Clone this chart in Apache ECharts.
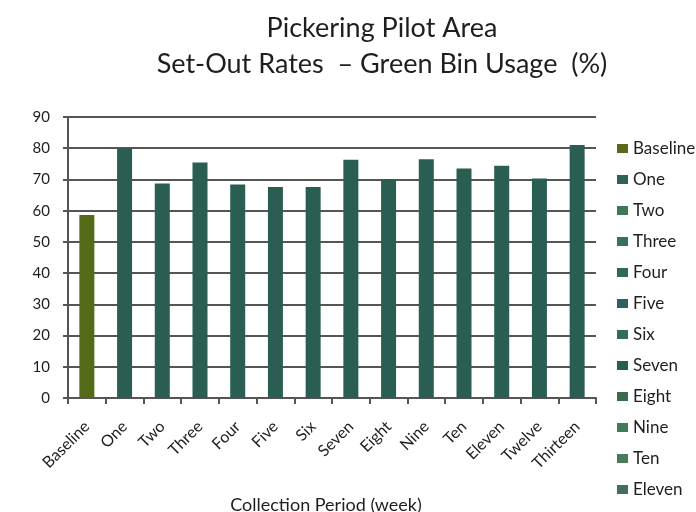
<!DOCTYPE html>
<html lang="en">
<head>
    <meta charset="UTF-8">
    <title>Pickering Pilot Area - Green Bin Usage</title>
    <style>
        * { margin: 0; padding: 0; box-sizing: border-box; }
        #chart { width: 696px; height: 512px; background: #fff; }
    </style>
</head>
<body>
<div id="chart"></div>
<script src="https://cdn.jsdelivr.net/npm/echarts@6.0.0/dist/echarts.min.js"></script>
<script>
    // periods on the x axis
    const periods = ['Baseline', 'One', 'Two', 'Three', 'Four', 'Five', 'Six',
        'Seven', 'Eight', 'Nine', 'Ten', 'Eleven', 'Twelve', 'Thirteen']
    // set-out rate (%) per period
    const rates = [58.6, 80.0, 68.7, 75.4, 68.4, 67.6, 67.6,
        76.3, 70.1, 76.5, 73.5, 74.4, 70.3, 81.0]
    // legend swatch shades (slightly different greens in the original)
    const swatches = ['#5a6a1c', '#2f6258', '#3e7856', '#3b7158', '#306a52', '#2f6060', '#356a5e',
        '#2a5c50', '#3a6a50', '#3f7a5a', '#4a7a5a', '#3f7060', '#3a6c58', '#3b7a5c']

    const font = 'Lato, "Open Sans", sans-serif'
    const myChart = echarts.init(document.getElementById('chart'))

    // one series per period so each gets a legend entry; stacked so bars stay centred
    const series = periods.map((p, i) => ({
        name: p,
        type: 'bar',
        stack: 'all',
        barWidth: 15,
        itemStyle: { color: i === 0 ? '#536a16' : '#2b5e53' },
        data: periods.map((_, j) => (j === i ? rates[i] : null))
    }))

    const option = {
        backgroundColor: '#fff',
        title: {
            text: 'Pickering Pilot Area\nSet-Out Rates  \u2013 Green Bin Usage  (%)',
            left: 377,
            top: 5,
            textAlign: 'center',
            textStyle: {
                fontFamily: font,
                fontWeight: 'normal',
                fontSize: 27,
                lineHeight: 36,
                color: '#1e1e1e'
            }
        },
        legend: {
            orient: 'vertical',
            left: 612,
            top: 135,
            height: 700,
            itemWidth: 11,
            itemHeight: 9,
            itemGap: 14,
            icon: 'rect',
            textStyle: { fontFamily: font, fontSize: 17, color: '#1e1e1e' },
            data: periods.map((p, i) => ({ name: p, itemStyle: { color: swatches[i] } }))
        },
        // keep the plot box fixed; the labels may run to the edge as in the original
        grid: { left: 68, right: 100, top: 117, bottom: 114, containLabel: false, outerBoundsMode: 'none' },
        xAxis: {
            type: 'category',
            data: periods,
            name: 'Collection Period (week)',
            nameLocation: 'middle',
            nameGap: 98,
            nameTextStyle: { fontFamily: font, fontSize: 18, color: '#1e1e1e', padding: [0, 12, 0, 0] },
            axisLine: { lineStyle: { color: '#555', width: 2 } },
            axisTick: { show: true, alignWithLabel: false, length: 6, lineStyle: { color: '#555', width: 2 } },
            axisLabel: {
                rotate: 45,
                margin: 26,
                interval: 0,
                fontFamily: font,
                fontSize: 16,
                color: '#1e1e1e'
            }
        },
        yAxis: {
            type: 'value',
            min: 0,
            max: 90,
            interval: 10,
            axisLine: { show: true, lineStyle: { color: '#555', width: 2 } },
            axisTick: { show: true, length: 5, lineStyle: { color: '#555', width: 2 } },
            splitLine: { lineStyle: { color: '#555', width: 2 } },
            axisLabel: { margin: 18, fontFamily: font, fontSize: 15, color: '#1e1e1e' }
        },
        series: series
    }

    myChart.setOption(option)
</script>
</body>
</html>
